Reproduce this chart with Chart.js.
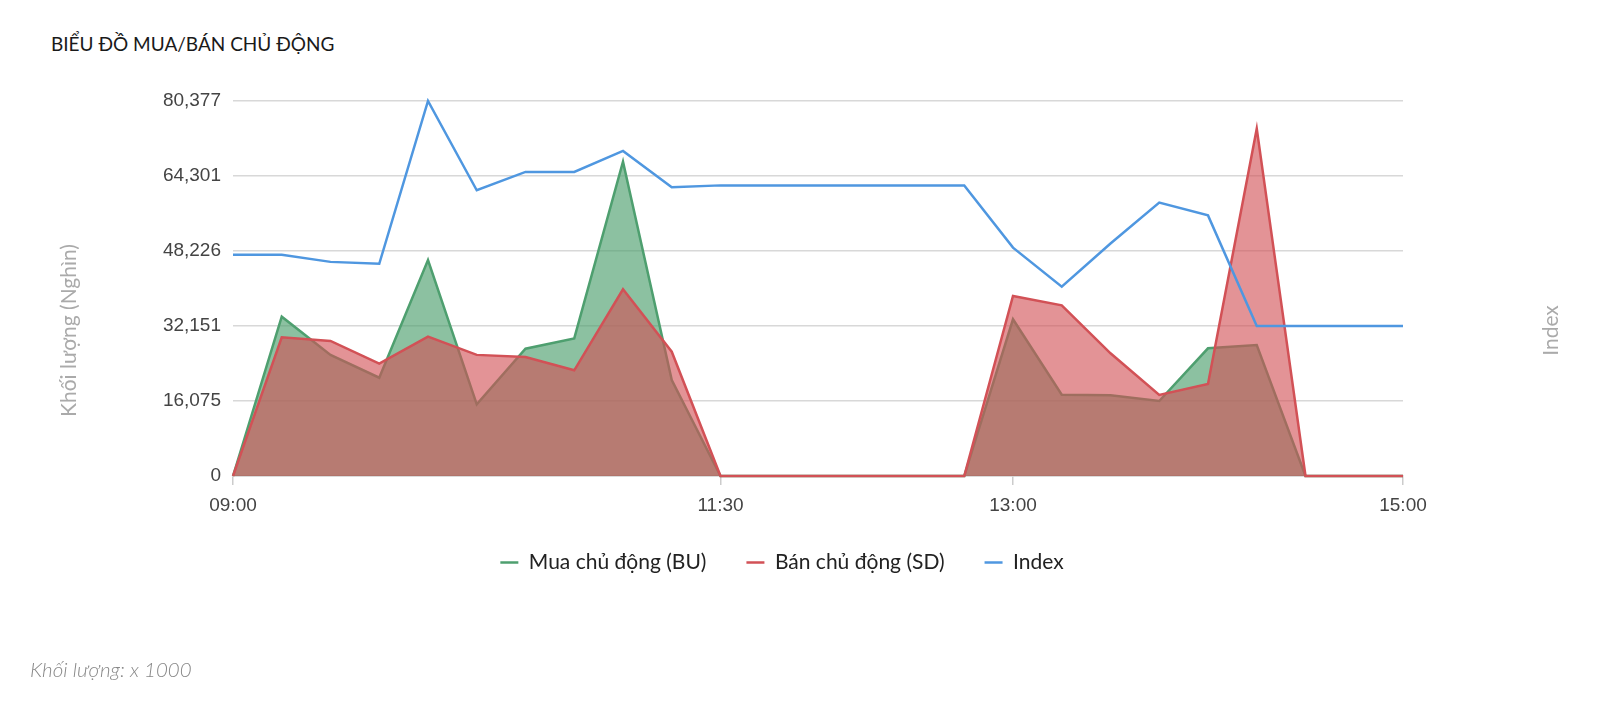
<!DOCTYPE html>
<html>
<head>
<meta charset="utf-8">
<script src="https://cdn.jsdelivr.net/npm/chart.js@4"></script>
<style>
  html, body { margin: 0; padding: 0; background: #fff; }
  body { width: 1613px; height: 706px; position: relative; overflow: hidden; }
  #chart { position: absolute; left: 0; top: 0; }
  .title { position: absolute; left: 51px; top: 32px; font: 19px Lato, sans-serif; color: #1a1a1a; }
  .note { position: absolute; left: 30px; top: 657px; font: italic 300 20.5px Lato, sans-serif; color: #888; }
</style>
</head>
<body>
<div class="title">BIỂU ĐỒ MUA/BÁN CHỦ ĐỘNG</div>
<canvas id="chart" width="1613" height="706"></canvas>
<div class="note">Khối lượng: x 1000</div>
<script>
// phiên giao dịch, mỗi 15 phút
const times = ['09:00','09:15','09:30','09:45','10:00','10:15','10:30','10:45','11:00','11:15','11:30','11:45',
  '12:00','12:15','12:30','12:45','13:00','13:15','13:30','13:45','14:00','14:15','14:30','14:45','15:00'];
const buyVol = [0, 34140, 25940, 21070, 46300, 15370, 27290, 29490, 67370, 20580, 0, 0,
  0, 0, 0, 0, 33590, 17430, 17300, 16080, 27370, 28080, 0, 0, 0];
const sellVol = [0, 29730, 28940, 24070, 29860, 25960, 25510, 22660, 40020, 26640, 0, 0,
  0, 0, 0, 0, 38580, 36590, 26300, 17360, 19720, 74450, 0, 0, 0];
const indexVal = [1285.90, 1285.90, 1285.71, 1285.66, 1290.00, 1287.62, 1288.11, 1288.11, 1288.67, 1287.70, 1287.75, 1287.75,
  1287.75, 1287.75, 1287.75, 1287.75, 1286.09, 1285.05, 1286.20, 1287.29, 1286.95, 1284.00, 1284.00, 1284.00, 1284.00];
const xTickLabels = ['09:00', '11:30', '13:00', '15:00'];
const yTicks = [0, 16075, 32151, 48226, 64301, 80377];
const yTitle = 'Khối lượng (Nghìn)';
const y1Title = 'Index';

const toMin = t => { const [h, m] = t.split(':').map(Number); return h * 60 + m; };
const fmtMin = v => String(Math.floor(v / 60)).padStart(2, '0') + ':' + String(v % 60).padStart(2, '0');
const pts = arr => arr.map((v, i) => ({ x: toMin(times[i]), y: v }));

// vẽ tiêu đề trục dọc
const axisTitles = {
  id: 'axisTitles',
  afterDraw(chart) {
    const { ctx, chartArea } = chart;
    const cy = (chartArea.top + chartArea.bottom) / 2 + 42;
    [[yTitle, chartArea.left - 164], [y1Title, chartArea.right + 148]].forEach(([txt, x]) => {
      ctx.save();
      ctx.fillStyle = '#aaa';
      ctx.font = '21px Lato, sans-serif';
      ctx.textAlign = 'center';
      ctx.textBaseline = 'middle';
      ctx.translate(x, cy);
      ctx.rotate(-Math.PI / 2);
      ctx.fillText(txt, 0, 0);
      ctx.restore();
    });
  }
};

new Chart(document.getElementById('chart'), {
  type: 'line',
  data: {
    datasets: [
      {
        label: 'Mua chủ động (BU)',
        data: pts(buyVol),
        borderColor: '#4e9f6f',
        backgroundColor: 'rgba(78,159,111,0.65)',
        borderWidth: 2.5,
        fill: 'origin',
        order: 2,
        yAxisID: 'y'
      },
      {
        label: 'Bán chủ động (SD)',
        data: pts(sellVol),
        borderColor: '#d25156',
        backgroundColor: 'rgba(210,81,86,0.62)',
        borderWidth: 2.5,
        fill: 'origin',
        order: 1,
        yAxisID: 'y'
      },
      {
        label: 'Index',
        data: pts(indexVal),
        borderColor: '#4f97e0',
        backgroundColor: '#4f97e0',
        borderWidth: 2.5,
        fill: false,
        order: 0,
        yAxisID: 'y1'
      }
    ]
  },
  options: {
    responsive: false,
    animation: false,
    devicePixelRatio: 1,
    layout: { padding: { top: 101, right: 49, bottom: 123, left: 0 } },
    elements: {
      point: { radius: 0, hoverRadius: 0 },
      line: { tension: 0 }
    },
    datasets: { line: { clip: false } },
    scales: {
      x: {
        type: 'linear',
        min: toMin(times[0]),
        max: toMin(times[times.length - 1]),
        afterBuildTicks: s => { s.ticks = xTickLabels.map(t => ({ value: toMin(t) })); },
        afterFit: s => { s.height = 36; },
        ticks: {
          callback: v => fmtMin(v),
          color: '#444',
          font: { family: 'Liberation Sans, Arial, sans-serif', size: 19 },
          padding: 9,
          maxRotation: 0
        },
        grid: { drawOnChartArea: false, tickLength: 9, color: '#ccc', lineWidth: 1.5 },
        border: { color: '#ccc', width: 1.5 }
      },
      y: {
        position: 'left',
        min: 0,
        max: yTicks[yTicks.length - 1],
        afterBuildTicks: s => { s.ticks = yTicks.map(v => ({ value: v })); },
        afterFit: s => { s.width = 233; },
        ticks: {
          callback: v => v.toLocaleString('en-US'),
          color: '#444',
          font: { family: 'Liberation Sans, Arial, sans-serif', size: 19 },
          padding: 12
        },
        grid: { color: '#d8d8d8', lineWidth: 1.5, drawTicks: false },
        border: { display: false }
      },
      y1: {
        position: 'right',
        min: 1280,
        max: 1290,
        afterFit: s => { s.width = 161; },
        ticks: { display: false },
        grid: { display: false },
        border: { display: false }
      }
    },
    plugins: {
      tooltip: { enabled: false },
      legend: {
        position: 'bottom',
        labels: {
          usePointStyle: true,
          pointStyle: 'line',
          pointStyleWidth: 18,
          padding: 40,
          color: '#222',
          font: { family: 'Lato, sans-serif', size: 21 },
          sort: (a, b) => a.datasetIndex - b.datasetIndex
        }
      }
    }
  },
  plugins: [axisTitles]
});
</script>
</body>
</html>
